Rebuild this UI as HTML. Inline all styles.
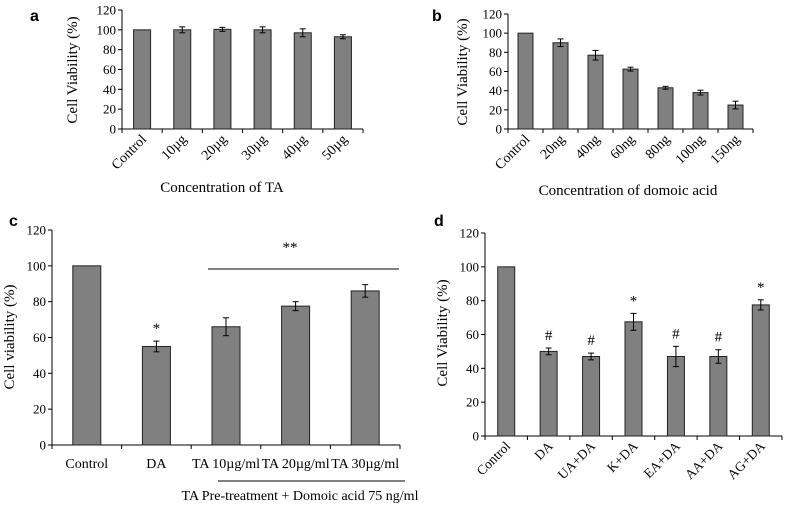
<!DOCTYPE html>
<html><head><meta charset="utf-8"><style>
html,body{margin:0;padding:0;background:#fff;}
svg{display:block;}
svg text{font-family:"Liberation Serif",serif;}
svg text.lbl{font-family:"Liberation Sans",sans-serif;font-weight:bold;}
</style></head><body>
<svg id="fig" width="785" height="507">
<text class="lbl" x="30" y="21" font-size="16">a</text>
<text class="lbl" x="432" y="21" font-size="16">b</text>
<text class="lbl" x="9" y="226" font-size="16">c</text>
<text class="lbl" x="434" y="226" font-size="16">d</text>
</svg>
<script>
const aCats=["Control","10µg","20µg","30µg","40µg","50µg"];
const aVals=[100,100,100.5,100,97,93];
const aErr=[0,3,2,3,4,2];
const bCats=["Control","20ng","40ng","60ng","80ng","100ng","150ng"];
const bVals=[100,90,77,62.5,43,38,25];
const bErr=[0,4,5,2,1.5,2.5,4];
const cCats=["Control","DA","TA 10µg/ml","TA 20µg/ml","TA 30µg/ml"];
const cVals=[100,55,66,77.5,86];
const cErr=[0,3,5,2.5,3.5];
const cMarks=["","*","","",""];
const dCats=["Control","DA","UA+DA","K+DA","EA+DA","AA+DA","AG+DA"];
const dVals=[100,50,47,67.5,47,47,77.5];
const dErr=[0,2,2,5,6,4,3];
const dMarks=["","#","#","*","#","#","*"];
const yTicks=[0,20,40,60,80,100,120];

const NS="http://www.w3.org/2000/svg";
const svg=document.getElementById('fig');
function mk(tag,attrs,parent,text){const e=document.createElementNS(NS,tag);for(const k in attrs)e.setAttribute(k,attrs[k]);if(text!==undefined)e.textContent=text;(parent||svg).appendChild(e);return e;}

function panel(p){
  const g=mk('g',{});
  
  
  const y=v=>p.y0-(v/120)*(p.y0-p.y1);
  const n=p.cats.length, cw=(p.x1-p.x0)/n;
  const x=i=>p.x0+cw*(i+0.5);
  const ya=mk('line',{x1:p.x0,y1:p.y1,x2:p.x0,y2:p.y0,stroke:'#000','stroke-width':1},g);
  
  
  const xa=mk('line',{x1:p.x0,y1:p.y0,x2:p.x1,y2:p.y0,stroke:'#000','stroke-width':1},g);
  
  
  yTicks.forEach(t=>{
    mk('line',{x1:p.x0-4,y1:y(t),x2:p.x0,y2:y(t),stroke:'#000'},g);
    const tl=mk('text',{x:p.x0-6,y:y(t)+4.5,'text-anchor':'end','font-size':p.fs},g,t);
    
    
  });
  for(let i=0;i<=n;i++) mk('line',{x1:p.x0+cw*i,y1:p.y0,x2:p.x0+cw*i,y2:p.y0+4,stroke:'#000'},g);
  p.cats.forEach((c,i)=>{
    const v=p.vals[i], bx=x(i)-p.bw/2;
    const b=mk('rect',{x:bx,y:y(v),width:p.bw,height:p.y0-y(v),fill:'#808080',stroke:'#222','stroke-width':1},g);
    
    
    const e=p.err[i];
    if(e>0){
      mk('line',{x1:x(i),y1:y(v+e),x2:x(i),y2:y(v-e),stroke:'#000'},g);
      mk('line',{x1:x(i)-3,y1:y(v+e),x2:x(i)+3,y2:y(v+e),stroke:'#000'},g);
      mk('line',{x1:x(i)-3,y1:y(v-e),x2:x(i)+3,y2:y(v-e),stroke:'#000'},g);
    }
    if(p.marks&&p.marks[i]){
      const m=mk('text',{x:x(i),y:y(v+e)-8,'text-anchor':'middle','font-size':15},g,p.marks[i]);
      
      
    }
    let t;
    if(p.rot){
      t=mk('text',{x:x(i)+5,y:p.y0+11,'text-anchor':'end','font-size':p.xfs,transform:`rotate(-45 ${x(i)+5} ${p.y0+11})`},g,c);
    } else {
      t=mk('text',{x:x(i),y:p.y0+23,'text-anchor':'middle','font-size':p.xfs},g,c);
    }
    
    
  });
  const yl=mk('text',{x:p.ylx,y:p.yly,'text-anchor':'middle','font-size':p.tfs,transform:`rotate(-90 ${p.ylx} ${p.yly})`},g,p.ylabel);
  
  
  if(p.xlabel){
    const xl=mk('text',{x:p.xlx,y:p.xly,'text-anchor':'middle','font-size':p.tfs},g,p.xlabel);
    
    
  }
  return {y,x,g};
}

panel({name:'chart-a',cats:aCats,vals:aVals,err:aErr,x0:122,x1:363,y0:129,y1:10,bw:17,fs:13,xfs:14,tfs:15,rot:true,ylabel:'Cell Viability (%)',ylx:77,yly:70,xlabel:'Concentration of TA',xlx:222,xly:192});
panel({name:'chart-b',cats:bCats,vals:bVals,err:bErr,x0:508,x1:753,y0:129,y1:14,bw:15,fs:13,xfs:14,tfs:15,rot:true,ylabel:'Cell  Viability (%)',ylx:467,yly:72,xlabel:'Concentration of domoic acid',xlx:628,xly:195});
panel({name:'chart-c',cats:cCats,vals:cVals,err:cErr,marks:cMarks,x0:52,x1:400,y0:445,y1:230,bw:28,fs:13,xfs:14,tfs:15,rot:false,ylabel:'Cell viability (%)',ylx:14,yly:337});
panel({name:'chart-d',cats:dCats,vals:dVals,err:dErr,marks:dMarks,x0:485,x1:782,y0:436,y1:233,bw:17,fs:13,xfs:13.5,tfs:15,rot:true,ylabel:'Cell Viability (%)',ylx:447,yly:333});

const sl=mk('line',{x1:208,y1:269,x2:399,y2:269,stroke:'#000'});


const st=mk('text',{x:290,y:252,'text-anchor':'middle','font-size':15},svg,'**');


const gl=mk('line',{x1:218,y1:481,x2:405,y2:481,stroke:'#000'});


const gt=mk('text',{x:300,y:500,'text-anchor':'middle','font-size':14},svg,'TA Pre-treatment + Domoic acid 75 ng/ml');


</script>
</body></html>
